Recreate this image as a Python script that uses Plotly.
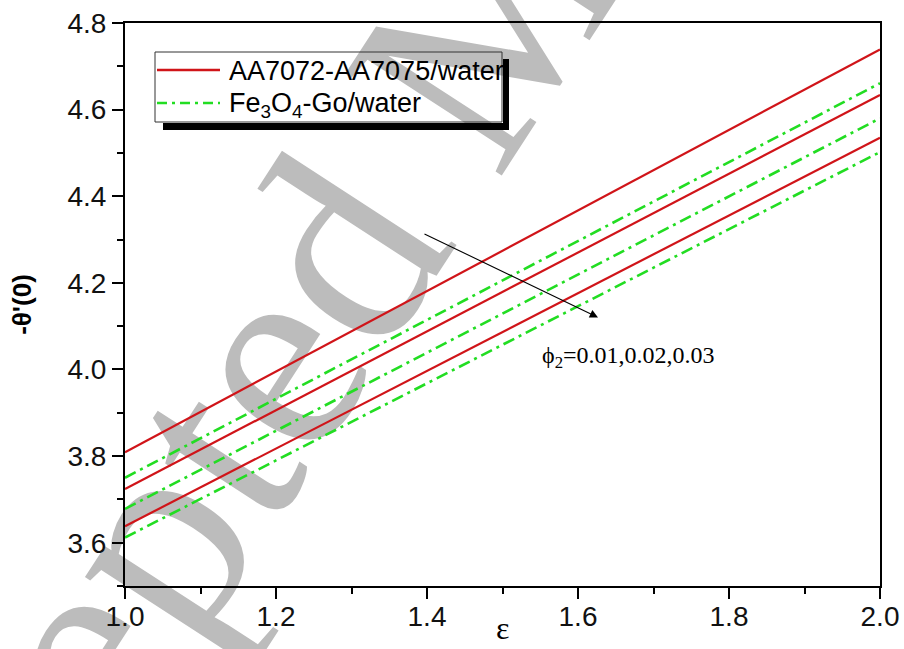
import plotly.graph_objects as go

# Dimensionless temperature gradient -theta'(0) versus epsilon
eps = [1.0, 2.0]

# AA7072-AA7075/water, phi2 = 0.01, 0.02, 0.03
aa_phi_001 = [3.809, 4.739]
aa_phi_002 = [3.724, 4.634]
aa_phi_003 = [3.638, 4.535]

# Fe3O4-Go/water, phi2 = 0.01, 0.02, 0.03
fe_phi_001 = [3.750, 4.661]
fe_phi_002 = [3.678, 4.580]
fe_phi_003 = [3.612, 4.502]

x_ticks = [1.0, 1.2, 1.4, 1.6, 1.8, 2.0]
y_ticks = [3.6, 3.8, 4.0, 4.2, 4.4, 4.6, 4.8]

AA_NAME = "AA7072-AA7075/water"
FE_NAME = "Fe<sub>3</sub>O<sub>4</sub>-Go/water"

RED = "#d01419"
GREEN = "#22dd22"
GREEN_DASH = "12px,5px,3px,5px"

W, H = 904, 649
ML, MR, MT, MB = 125, 24, 23, 63
PW, PH = W - ML - MR, H - MT - MB


def px(xp):
    return (xp - ML) / PW


def py(yp):
    return (H - MB - yp) / PH


fig = go.Figure()

aa_series = [aa_phi_001, aa_phi_002, aa_phi_003]
fe_series = [fe_phi_001, fe_phi_002, fe_phi_003]

for ys in aa_series:
    fig.add_trace(go.Scatter(
        x=eps, y=ys, mode="lines",
        line=dict(color=RED, width=2.2),
        name=AA_NAME, legendgroup="aa", showlegend=False,
    ))

for ys in fe_series:
    fig.add_trace(go.Scatter(
        x=eps, y=ys, mode="lines",
        line=dict(color=GREEN, width=2.6, dash=GREEN_DASH),
        name=FE_NAME, legendgroup="fe", showlegend=False,
    ))

axis_common = dict(
    showline=True, linecolor="black", linewidth=2, mirror=True,
    ticks="outside", ticklen=11, tickwidth=2, tickcolor="black",
    showgrid=False, zeroline=False,
    tickfont=dict(family="Liberation Sans, Arial", size=28, color="#111111"),
    tickformat=".1f",
)

fig.update_xaxes(
    range=[1.0, 2.0], tickvals=x_ticks, ticklabelstandoff=-7,
    minor=dict(dtick=0.1, tick0=1.0, ticks="outside", ticklen=6,
               tickwidth=2, tickcolor="black"),
    **axis_common,
)
fig.update_yaxes(
    range=[3.5, 4.8], tickvals=y_ticks,
    minor=dict(dtick=0.1, tick0=3.5, ticks="outside", ticklen=6,
               tickwidth=2, tickcolor="black"),
    title=dict(text="<b>-θ'(0)</b>", standoff=28,
               font=dict(family="Liberation Sans, Arial", size=26, color="black")),
    **axis_common,
)

# legend box geometry (pixels)
LX0, LX1, LY0, LY1 = 155, 502, 52, 122
SHADOW = 7
ROW1, ROW2 = 70, 103
SAMPLE_X0, SAMPLE_X1, TEXT_X = 157, 220, 227

# watermark centre (pixels), size and angle
WM_X, WM_Y, WM_SIZE, WM_ANGLE = 432, 50, 285, -57

shapes = [
    # grey diagonal watermark behind everything
    dict(type="rect", xref="paper", yref="paper", layer="below",
         x0=px(WM_X - 1), x1=px(WM_X + 1), y0=py(WM_Y + 1), y1=py(WM_Y - 1),
         line=dict(width=0), fillcolor="rgba(0,0,0,0)",
         label=dict(text="Accepted Manuscript", textangle=WM_ANGLE,
                    textposition="middle center",
                    font=dict(family="Liberation Serif, Times New Roman",
                              size=WM_SIZE, color="#bcbcbc"))),
    # legend: drop shadow (bottom and right strips), frame, line samples
    dict(type="rect", xref="paper", yref="paper", layer="above",
         x0=px(LX0 + SHADOW + 1), x1=px(LX1 + SHADOW),
         y0=py(LY1 + SHADOW + 1), y1=py(LY1 + 1),
         line=dict(width=0), fillcolor="black"),
    dict(type="rect", xref="paper", yref="paper", layer="above",
         x0=px(LX1 + 1), x1=px(LX1 + SHADOW),
         y0=py(LY1 + SHADOW + 1), y1=py(LY0 + SHADOW),
         line=dict(width=0), fillcolor="black"),
    dict(type="rect", xref="paper", yref="paper", layer="above",
         x0=px(LX0), x1=px(LX1), y0=py(LY1), y1=py(LY0),
         line=dict(width=1, color="#333333"), fillcolor="rgba(0,0,0,0)"),
    dict(type="line", xref="paper", yref="paper", layer="above",
         x0=px(SAMPLE_X0), x1=px(SAMPLE_X1), y0=py(ROW1), y1=py(ROW1),
         line=dict(color=RED, width=2.6)),
    dict(type="line", xref="paper", yref="paper", layer="above",
         x0=px(SAMPLE_X0), x1=px(SAMPLE_X1), y0=py(ROW2), y1=py(ROW2),
         line=dict(color=GREEN, width=2.6, dash="10px,5px,3px,5px")),
]

annotations = [
    dict(x=px(TEXT_X), y=py(ROW1 + 1), xref="paper", yref="paper",
         xanchor="left", yanchor="middle", showarrow=False, text=AA_NAME,
         font=dict(family="Liberation Sans, Arial", size=27, color="black")),
    dict(x=px(TEXT_X), y=py(ROW2 + 2), xref="paper", yref="paper",
         xanchor="left", yanchor="middle", showarrow=False, text=FE_NAME,
         font=dict(family="Liberation Sans, Arial", size=27, color="black")),
    dict(x=1.6265, y=4.1202, ax=1.3947, ay=4.3145, xref="x", yref="y",
         axref="x", ayref="y", text="", showarrow=True,
         arrowhead=2, arrowsize=1.5, arrowwidth=1.1, arrowcolor="black"),
    dict(x=1.5497, y=4.028, xref="x", yref="y", xanchor="left",
         yanchor="middle", showarrow=False,
         text="ϕ<sub>2</sub>=0.01,0.02,0.03",
         font=dict(family="Liberation Serif, Times New Roman", size=24,
                   color="black")),
    dict(x=0.5, y=py(628), xref="paper", yref="paper", showarrow=False,
         text="ε", yanchor="middle",
         font=dict(family="Liberation Serif, Times New Roman", size=32,
                   color="black")),
]

fig.update_layout(
    width=W, height=H,
    margin=dict(l=ML, r=MR, t=MT, b=MB, autoexpand=False),
    paper_bgcolor="white", plot_bgcolor="rgba(0,0,0,0)",
    shapes=shapes, annotations=annotations,
    showlegend=False,
)

fig.write_html("out.html")
